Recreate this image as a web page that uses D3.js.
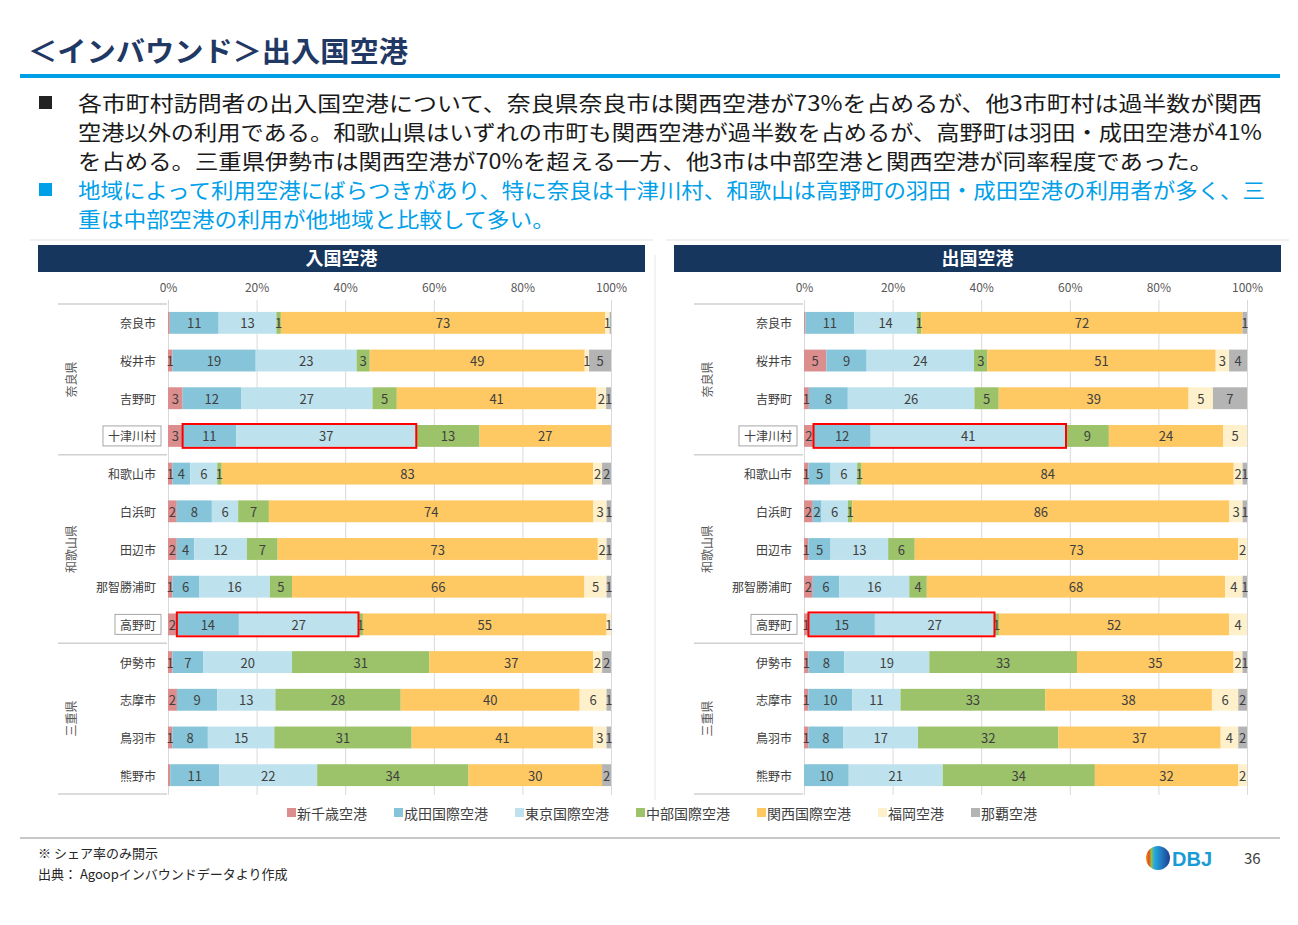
<!DOCTYPE html>
<html lang="ja">
<head>
<meta charset="utf-8">
<script src="https://cdn.jsdelivr.net/npm/d3@7"></script>
<style>
  html, body { margin: 0; padding: 0; background: #ffffff; }
  svg { display: block; font-family: "Noto Sans CJK JP", "Noto Sans", sans-serif; }
</style>
</head>
<body>
<svg id="chart" width="1298" height="925"></svg>
<script>
// ---------------- DATA ----------------
const categories = ["奈良市","桜井市","吉野町","十津川村","和歌山市","白浜町","田辺市","那智勝浦町","高野町","伊勢市","志摩市","鳥羽市","熊野市"];
const prefNames = ["奈良県","和歌山県","三重県"];
const prefCounts = [4, 5, 4];
const airports = ["新千歳空港","成田国際空港","東京国際空港","中部国際空港","関西国際空港","福岡空港","那覇空港"];
const highlightCats = ["十津川村","高野町"];
const highlightAirports = ["成田国際空港","東京国際空港"];
const tickValues = [0, 0.2, 0.4, 0.6, 0.8, 1.0];

// 入国空港 (inbound) shares, %
const inShinChitose = [0.4, 1, 3, 3, 1, 2, 2, 1, 2, 1, 2, 1, 0.5];
const inNarita      = [11, 19, 12, 11, 4, 8, 4, 6, 14, 7, 9, 8, 11];
const inTokyo       = [13, 23, 27, 37, 6, 6, 12, 16, 27, 20, 13, 15, 22];
const inChubu       = [1, 3, 5, 13, 1, 7, 7, 5, 1, 31, 28, 31, 34];
const inKansai      = [73, 49, 41, 27, 83, 74, 73, 66, 55, 37, 40, 41, 30];
const inFukuoka     = [1, 1, 2, 0, 2, 3, 2, 5, 1, 2, 6, 3, 0];
const inNaha        = [0.3, 5, 1, 0, 2, 1, 1, 1, 0, 2, 1, 1, 2];

// 出国空港 (outbound) shares, %
const outShinChitose = [0.3, 5, 1, 2, 1, 2, 1, 2, 1, 1, 1, 1, 0];
const outNarita      = [11, 9, 8, 12, 5, 2, 5, 6, 15, 8, 10, 8, 10];
const outTokyo       = [14, 24, 26, 41, 6, 6, 13, 16, 27, 19, 11, 17, 21];
const outChubu       = [1, 3, 5, 9, 1, 1, 6, 4, 1, 33, 33, 32, 34];
const outKansai      = [72, 51, 39, 24, 84, 86, 73, 68, 52, 35, 38, 37, 32];
const outFukuoka     = [0, 3, 5, 5, 2, 3, 2, 4, 4, 2, 6, 4, 2];
const outNaha        = [1, 4, 7, 0, 1, 1, 0, 1, 0, 1, 2, 2, 0];

const inSeries  = [inShinChitose, inNarita, inTokyo, inChubu, inKansai, inFukuoka, inNaha];
const outSeries = [outShinChitose, outNarita, outTokyo, outChubu, outKansai, outFukuoka, outNaha];

// ---------------- STYLE ----------------
const colors = ["#dc8e8e", "#86c5d9", "#bee2ed", "#9cc26a", "#fec862", "#fdf0cb", "#b4b4b4"];
const FONT = '"Noto Sans CJK JP", "Noto Sans", sans-serif';
const color = d3.scaleOrdinal().domain(airports).range(colors);

const svg = d3.select("#chart");

// ---------------- HEADER ----------------
svg.append("text")
  .attr("x", 28).attr("y", 62)
  .attr("font-size", 28).attr("font-weight", "bold")
  .attr("fill", "#1f3864")
  .attr("textLength", 380).attr("lengthAdjust", "spacingAndGlyphs")
  .text("＜インバウンド＞出入国空港");

svg.append("rect").attr("x", 20).attr("y", 74).attr("width", 1260).attr("height", 4).attr("fill", "#00a0e9");

const bodyLines = [
  {t: "各市町村訪問者の出入国空港について、奈良県奈良市は関西空港が73%を占めるが、他3市町村は過半数が関西", w: 1184, c: "#1a1a1a", y: 111, bullet: "#222222"},
  {t: "空港以外の利用である。和歌山県はいずれの市町も関西空港が過半数を占めるが、高野町は羽田・成田空港が41%", w: 1184, c: "#1a1a1a", y: 140},
  {t: "を占める。三重県伊勢市は関西空港が70%を超える一方、他3市は中部空港と関西空港が同率程度であった。", w: 1135, c: "#1a1a1a", y: 169},
  {t: "地域によって利用空港にばらつきがあり、特に奈良は十津川村、和歌山は高野町の羽田・成田空港の利用者が多く、三", w: 1187, c: "#00a0e9", y: 198, bullet: "#00a0e9"},
  {t: "重は中部空港の利用が他地域と比較して多い。", w: 477, c: "#00a0e9", y: 227}
];
bodyLines.forEach(l => {
  if (l.bullet) {
    svg.append("rect").attr("x", 39).attr("y", l.y - 15).attr("width", 13).attr("height", 13).attr("fill", l.bullet);
  }
  svg.append("text")
    .attr("x", 78).attr("y", l.y)
    .attr("font-size", 21)
    .attr("fill", l.c)
    .attr("textLength", l.w).attr("lengthAdjust", "spacingAndGlyphs")
    .text(l.t);
});

// ---------------- PANELS ----------------
const yScale = d3.scaleBand().domain(categories).range([304, 794]).paddingInner(0.42).paddingOuter(0.21);
const stack = d3.stack().keys(airports).offset(d3.stackOffsetExpand);

function drawPanel(cfg) {
  const g = svg.append("g");
  const x = d3.scaleLinear().domain([0, 1]).range(cfg.xr);

  // header band
  g.append("line").attr("x1", cfg.bandX - 8).attr("x2", cfg.bandX + cfg.bandW + 8)
    .attr("y1", 240).attr("y2", 240).attr("stroke", "#e3e3e3");
  g.append("rect").attr("x", cfg.bandX).attr("y", 245).attr("width", cfg.bandW).attr("height", 27).attr("fill", "#17365d");
  g.append("text").attr("x", cfg.bandX + cfg.bandW / 2).attr("y", 265)
    .attr("text-anchor", "middle").attr("font-size", 18).attr("font-weight", "bold").attr("fill", "#ffffff")
    .text(cfg.title);

  // table rows
  const rows = categories.map((c, i) => {
    const r = {cat: c};
    airports.forEach((a, k) => r[a] = cfg.series[k][i]);
    return r;
  });
  const stacked = stack(rows);

  // gridlines
  const xAxis = d3.axisTop(x).tickValues(tickValues).tickFormat(d3.format(".0%")).tickSize(-(795 - 300)).tickPadding(6);
  const ax = g.append("g").attr("transform", "translate(0,300)").call(xAxis);
  ax.select(".domain").remove();
  ax.selectAll(".tick line").attr("stroke", "#d9d9d9");
  ax.selectAll(".tick text").attr("font-family", FONT).attr("font-size", 12).attr("fill", "#595959").attr("y", -8);

  // category area lines
  let acc = 0;
  const bounds = [0];
  prefCounts.forEach(n => { acc += n; bounds.push(acc); });
  bounds.forEach(b => {
    const yy = b < categories.length ? yScale(categories[b]) - yScale.step() * yScale.paddingInner() / 2 : 794;
    const yv = b === 0 ? 304 : yy;
    g.append("line").attr("x1", cfg.sepX0).attr("x2", cfg.sepX1).attr("y1", yv).attr("y2", yv)
      .attr("stroke", "#d0d0d0").attr("stroke-width", 1.5);
  });

  // prefecture labels
  prefNames.forEach((p, i) => {
    const y0 = bounds[i] === 0 ? 304 : yScale(categories[bounds[i]]) - yScale.step() * yScale.paddingInner() / 2;
    const y1 = bounds[i + 1] >= categories.length ? 794 : yScale(categories[bounds[i + 1]]) - yScale.step() * yScale.paddingInner() / 2;
    const cy = (y0 + y1) / 2;
    g.append("text").attr("transform", `translate(${cfg.prefX},${cy}) rotate(-90)`)
      .attr("text-anchor", "middle").attr("dominant-baseline", "central")
      .attr("font-size", 12).attr("fill", "#595959").text(p);
  });

  // category labels
  categories.forEach(c => {
    const t = g.append("text").attr("x", cfg.catX).attr("y", yScale(c) + yScale.bandwidth() / 2)
      .attr("text-anchor", "end").attr("dominant-baseline", "central")
      .attr("font-size", 12).attr("fill", "#404040").text(c);
    if (highlightCats.includes(c)) {
      const bb = t.node().getBBox();
      g.append("rect").attr("x", bb.x - 5).attr("y", yScale(c) + yScale.bandwidth() / 2 - 10)
        .attr("width", bb.width + 10).attr("height", 20)
        .attr("fill", "none").attr("stroke", "#a6a6a6").attr("stroke-width", 1);
    }
  });

  // bars
  const layer = g.selectAll(".layer").data(stacked).enter().append("g").attr("fill", d => color(d.key));
  layer.selectAll("rect").data(d => d).enter().append("rect")
    .attr("x", d => x(d[0])).attr("width", d => Math.max(0, x(d[1]) - x(d[0])))
    .attr("y", d => yScale(d.data.cat)).attr("height", yScale.bandwidth());

  // labels
  stacked.forEach(s => {
    s.forEach(d => {
      const v = d.data[s.key];
      if (v >= 1) {
        g.append("text").attr("x", (x(d[0]) + x(d[1])) / 2).attr("y", yScale(d.data.cat) + yScale.bandwidth() / 2)
          .attr("text-anchor", "middle").attr("dominant-baseline", "central")
          .attr("font-size", 13).attr("fill", "#404040").text(v);
      }
    });
  });

  // red highlight boxes
  highlightCats.forEach(c => {
    const i = categories.indexOf(c);
    const first = stacked[airports.indexOf(highlightAirports[0])][i];
    const last = stacked[airports.indexOf(highlightAirports[highlightAirports.length - 1])][i];
    g.append("rect").attr("x", x(first[0])).attr("y", yScale(c) - 1)
      .attr("width", x(last[1]) - x(first[0])).attr("height", yScale.bandwidth() + 2)
      .attr("fill", "none").attr("stroke", "#ff0000").attr("stroke-width", 2);
  });

  // right border of panel
  if (cfg.vline) {
    g.append("line").attr("x1", cfg.vline).attr("x2", cfg.vline).attr("y1", 255).attr("y2", 800)
      .attr("stroke", "#e6e6e6");
  }
}

drawPanel({title: "入国空港", series: inSeries, xr: [168, 611], bandX: 38, bandW: 607, catX: 156, prefX: 70, sepX0: 58, sepX1: 167, vline: 655});
drawPanel({title: "出国空港", series: outSeries, xr: [804, 1247], bandX: 674, bandW: 607, catX: 792, prefX: 706, sepX0: 694, sepX1: 803, vline: null});

// ---------------- LEGEND ----------------
const legend = svg.append("g");
let lx = 287;
airports.forEach(a => {
  legend.append("rect").attr("x", lx).attr("y", 808).attr("width", 9).attr("height", 9).attr("fill", color(a));
  const t = legend.append("text").attr("x", lx + 10).attr("y", 813).attr("dominant-baseline", "central")
    .attr("font-size", 14).attr("fill", "#404040").text(a);
  lx += 10 + t.node().getComputedTextLength() + 27;
});

// ---------------- FOOTER ----------------
svg.append("rect").attr("x", 20).attr("y", 837).attr("width", 1260).attr("height", 2).attr("fill", "#c8c8c8");
svg.append("text").attr("x", 38).attr("y", 858).attr("font-size", 13).attr("fill", "#262626").text("※ シェア率のみ開示");
svg.append("text").attr("x", 38).attr("y", 879).attr("font-size", 13).attr("fill", "#262626").text("出典： Agoopインバウンドデータより作成");

const defs = svg.append("defs");
const grad = defs.append("linearGradient").attr("id", "dbjgrad").attr("x1", "0").attr("x2", "1").attr("y1", "0").attr("y2", "0");
[["0", "#f4a000"], ["0.12", "#e8452c"], ["0.22", "#8cc63f"], ["0.35", "#27a9e1"], ["1", "#1b3f94"]].forEach(s =>
  grad.append("stop").attr("offset", s[0]).attr("stop-color", s[1]));
svg.append("circle").attr("cx", 1158).attr("cy", 858).attr("r", 12).attr("fill", "url(#dbjgrad)");
svg.append("text").attr("x", 1172).attr("y", 866).attr("font-size", 20).attr("font-weight", "bold")
  .attr("fill", "#1a9bd7").attr("font-family", "Liberation Sans, sans-serif").text("DBJ");
svg.append("text").attr("x", 1244).attr("y", 864).attr("font-size", 15).attr("fill", "#404040").text("36");
</script>
</body>
</html>
